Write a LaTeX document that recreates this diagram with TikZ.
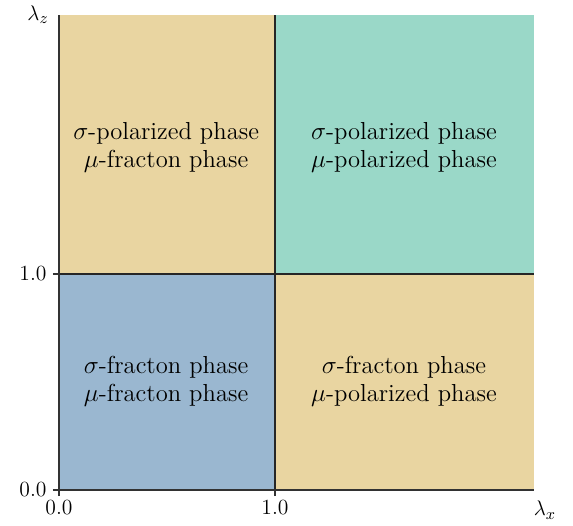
\documentclass[tikz,border=0pt]{standalone}
\usepackage{xcolor}
\usetikzlibrary{positioning}
\definecolor{phasetan}{RGB}{233,213,161}
\definecolor{phaseteal}{RGB}{154,216,200}
\definecolor{phaseblue}{RGB}{154,183,208}
\definecolor{axisgray}{RGB}{50,50,50}

\begin{document}
\begin{tikzpicture}[
  x=4.32cm, y=4.32cm,
  axisline/.style={draw=axisgray, line width=0.8pt},
  divider/.style={draw=black!85, line width=0.8pt},
  phaselabel/.style={align=center, font=\fontsize{14}{15.9}\selectfont},
  ticklabel/.style={font=\fontsize{12.3}{14}\selectfont, inner sep=2pt}
]
  \useasboundingbox (-0.2731,-0.1620) rectangle (2.3796,2.2685);

  % phase regions
  \fill[phasetan] (0,1) rectangle (1,2.2);
  \fill[phaseteal] (1,1) rectangle (2.2,2.2);
  \fill[phaseblue] (0,0) rectangle (1,1);
  \fill[phasetan] (1,0) rectangle (2.2,1);

  % phase boundaries
  \draw[divider] (1,0) -- (1,2.2);
  \draw[divider] (0,1) -- (2.2,1);

  % axes with ticks
  \coordinate (o) at (0,0);
  \coordinate (xend) at (2.2,0);
  \coordinate (yend) at (0,2.2);
  \draw[axisline] (-0.028,0) -- (xend);
  \draw[axisline] (0,-0.028) -- (yend);
  \draw[axisline] (-0.028,1) -- (0,1);
  \draw[axisline] (1,-0.028) -- (1,0);

  % tick labels
  \node[ticklabel, anchor=east] (y0) at (-0.04,0) {0.0};
  \node[ticklabel, anchor=east] (y1) at (-0.04,1) {1.0};
  \node[ticklabel, anchor=north] (x0) at (0,-0.03) {0.0};
  \node[ticklabel, anchor=north] (x1) at (1,-0.03) {1.0};
  \node[ticklabel] (lz) at (-0.097,2.199) {$\lambda_z$};
  \node[ticklabel] (lx) at (2.25,-0.093) {$\lambda_x$};

  % phase names
  \node[phaselabel] (tl) at (0.496,1.588) {$\sigma$-polarized phase\\$\mu$-fracton phase};
  \node[phaselabel] (tr) at (1.597,1.588) {$\sigma$-polarized phase\\$\mu$-polarized phase};
  \node[phaselabel] (bl) at (0.496,0.505) {$\sigma$-fracton phase\\$\mu$-fracton phase};
  \node[phaselabel] (br) at (1.597,0.505) {$\sigma$-fracton phase\\$\mu$-polarized phase};
\end{tikzpicture}
\end{document}
